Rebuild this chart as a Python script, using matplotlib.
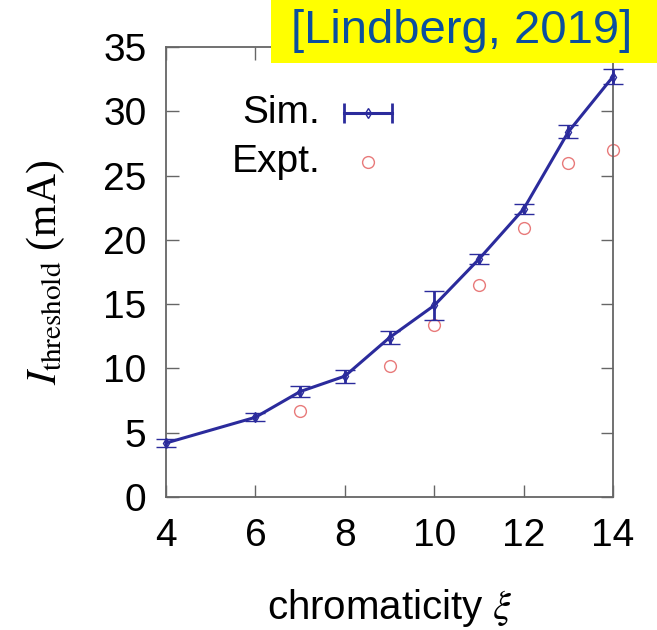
import numpy as np
import matplotlib
matplotlib.use("Agg")
import matplotlib.pyplot as plt
from matplotlib.patches import Rectangle

plt.rcParams['font.family'] = ['Liberation Sans', 'DejaVu Sans']
plt.rcParams['mathtext.fontset'] = 'stix'

# Simulation data (with error bars)
sim_xi = [4, 6, 7, 8, 9, 10, 11, 12, 13, 14]
sim_I = [4.2, 6.2, 8.2, 9.4, 12.4, 14.9, 18.5, 22.4, 28.4, 32.7]
sim_err = [0.3, 0.3, 0.4, 0.5, 0.5, 1.1, 0.4, 0.4, 0.5, 0.6]

# Experimental data
expt_xi = [7, 9, 10, 11, 12, 13, 14]
expt_I = [6.7, 10.2, 13.4, 16.5, 20.9, 26.0, 27.0]

sim_color = "#2b2b9c"
expt_color = "#e87a7a"

fig = plt.figure(figsize=(6.57, 6.30), dpi=100)
ax = fig.add_axes([0.2527, 0.2111, 0.6804, 0.7143])

ax.errorbar(sim_xi, sim_I, yerr=sim_err, color=sim_color, lw=2.2,
            marker='d', ms=5, mfc='none', mew=1.0,
            capsize=7, capthick=2.0, elinewidth=2.0, zorder=3, clip_on=False)
ax.plot(expt_xi, expt_I, 'o', ms=8.5, mfc='none', mec=expt_color, mew=1.0,
        linestyle='none', zorder=2, clip_on=False)

ax.set_xlim(4, 14)
ax.set_ylim(0, 35)
ax.set_xticks([4, 6, 8, 10, 12, 14])
ax.set_yticks(np.arange(0, 36, 5))
ax.tick_params(direction='in', length=9, width=1.0, color='#666666',
               labelsize=28, top=True, right=True)
ax.tick_params(axis='x', pad=15)
ax.tick_params(axis='y', pad=14)
for s in ax.spines.values():
    s.set_color('#666666')
    s.set_linewidth(1.3)

ax.set_xlabel(r'chromaticity $\xi$', fontsize=29, labelpad=24)
ax.set_ylabel(r'$I_{\mathrm{threshold}}$ (mA)', fontsize=30,
              family='Liberation Serif', labelpad=26)

# gnuplot style key
t = ax.transAxes
ax.text(0.345, 0.853, 'Sim.', transform=t, ha='right', va='center', fontsize=28)
ax.text(0.345, 0.744, 'Expt.', transform=t, ha='right', va='center', fontsize=28)
ax.plot([0.398, 0.506], [0.853, 0.853], transform=t, color=sim_color, lw=2.2,
        clip_on=False)
ax.plot([0.398, 0.506], [0.853, 0.853], transform=t, color=sim_color, lw=0,
        marker='|', ms=14, mew=2.0, clip_on=False)
ax.plot([0.452], [0.853], transform=t, color=sim_color, marker='d', ms=5,
        mfc='none', mew=1.0, clip_on=False)
ax.plot([0.452], [0.744], transform=t, marker='o', ms=8.5, mfc='none',
        mec=expt_color, mew=1.0, clip_on=False)

# citation box
fig.patches.append(Rectangle((0.4125, 0.9), 0.5875, 0.1, transform=fig.transFigure,
                             facecolor='#ffff00', edgecolor='none', zorder=5))
fig.text(0.703, 0.951, '[Lindberg, 2019]', ha='center', va='center',
         fontsize=34, color='#0b4f9e', zorder=6)

fig.savefig("out.png", dpi=100)
